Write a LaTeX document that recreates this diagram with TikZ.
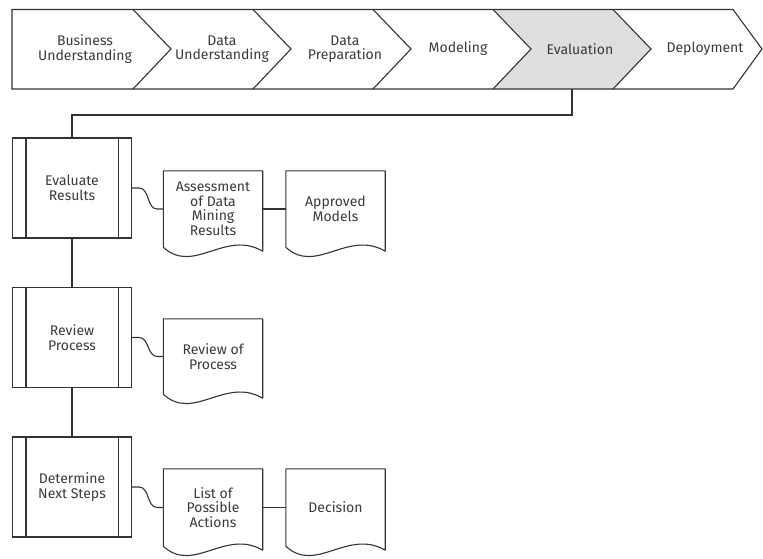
\documentclass[tikz,border=0pt]{standalone}
\usepackage{fontspec}
\setmainfont{Fira Sans}
\usetikzlibrary{calc}
\definecolor{ln}{HTML}{333333}
\definecolor{tx}{HTML}{3A3A3A}
\definecolor{evfill}{HTML}{DEDEDE}
\tikzset{
  base/.style={line width=1.1pt, draw=ln},
  lbl/.style={text=tx, align=center, font=\fontsize{14}{14.5}\selectfont, inner sep=0pt},
  procbox/.style={base, rectangle, minimum width=119pt, minimum height=100pt, inner sep=0pt,
    text=tx, align=center, font=\fontsize{14}{14.5}\selectfont},
  docbox/.style={rectangle, minimum width=99pt, inner sep=0pt,
    text=tx, align=center, font=\fontsize{14}{14.5}\selectfont},
  conn/.style={base}
}
\newcommand\procbars[1]{%
  \draw[base] ([xshift=14pt]#1.north west) -- ([xshift=14pt]#1.south west);
  \draw[base] ([xshift=-14pt]#1.north east) -- ([xshift=-14pt]#1.south east);}
\newcommand\docoutline[1]{%
  \draw[base, line join=round] (#1.south west) -- (#1.north west) -- (#1.north east) -- ($(#1.south east)+(0,4)$)
    .. controls ($(#1.south west)+(62,-18)$) and ($(#1.south west)+(30,28)$) .. (#1.south west);}
\begin{document}
\begin{tikzpicture}[x=1pt, y=-1pt]
\useasboundingbox (0,0) rectangle (763,558);
% chevron bar
\fill[evfill] (493,9.5) -- (613,9.5) -- (651,49) -- (613,89) -- (493,89) -- (531,49) -- cycle;
\draw[base, line join=miter] (12,9.5) -- (733,9.5) -- (762,49) -- (733,89) -- (12,89) -- cycle;
\foreach \x in {133,253,373,493,613}
  \draw[base] (\x,9.5) -- (\x+38,49) -- (\x,89);
\node[lbl] (bu) at (85,49) {Business\\Understanding};
\node[lbl] (du) at (222,49) {Data\\Understanding};
\node[lbl] (dp) at (345,49) {Data\\Preparation};
\node[lbl] (mo) at (458,49) {Modeling};
\node[lbl] (ev) at (580,49) {Evaluation};
\node[lbl] (de) at (705,49) {Deployment};
\coordinate (evb) at (572,89);
% process boxes
\node[procbox] (p1) at (72,188) {Evaluate\\Results};
\node[procbox] (p2) at (72,337.5) {Review\\Process};
\node[procbox] (p3) at (72,487) {Determine\\Next Steps};
\procbars{p1}\procbars{p2}\procbars{p3}
% documents
\node[docbox, minimum height=76pt] (d1) at (213,209) {Assessment\\of Data\\Mining\\Results};
\node[docbox, minimum height=76pt] (d2) at (335.5,209) {Approved\\Models};
\node[docbox, minimum height=75pt] (d3) at (213,356.5) {Review of\\Process};
\node[docbox, minimum height=77pt] (d4) at (213,507.5) {List of\\Possible\\Actions};
\node[docbox, minimum height=77pt] (d5) at (335.5,507.5) {Decision};
\docoutline{d1}\docoutline{d2}\docoutline{d3}\docoutline{d4}\docoutline{d5}
% connectors
\draw[conn] (evb) -- ++(0,26) -| (p1.north);
\draw[conn] (p1.south) -- (p2.north);
\draw[conn] (p2.south) -- (p3.north);
\foreach \p/\d in {p1/d1,p2/d3,p3/d4}
  \draw[conn] (\p.east) -- ++(7,0) to[out=0,in=180] ([xshift=-6pt]\d.west) -- (\d.west);
\draw[conn] (d1.east) -- (d2.west);
\draw[conn] (d4.east) -- (d5.west);
\end{tikzpicture}
\end{document}
